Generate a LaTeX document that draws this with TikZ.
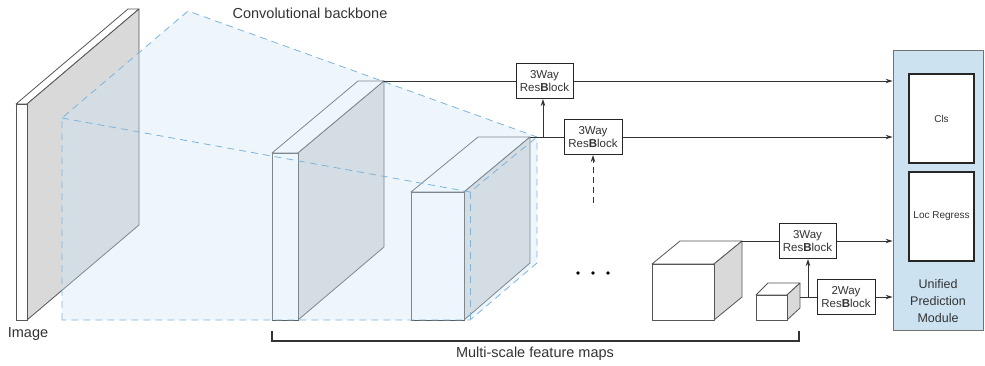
\documentclass[tikz,border=0pt]{standalone}
\usepackage{fontspec}
\setmainfont{Liberation Sans}
\usetikzlibrary{arrows.meta}
\definecolor{facegrey}{HTML}{D9D9D9}
\definecolor{edge}{HTML}{555555}
\definecolor{bluefill}{HTML}{CDE6F7}
\definecolor{bluedash}{HTML}{7DB4DC}
\definecolor{modfill}{HTML}{CCE2F0}
\definecolor{txt}{HTML}{333333}
\begin{document}
\begin{tikzpicture}[x=1pt,y=-1pt,
  solid3d/.style={draw=edge, line width=0.8pt, line join=round},
  whiteface/.style={solid3d, fill=white},
  greyface/.style={solid3d, fill=facegrey},
  bluedashed/.style={draw=bluedash, line width=0.8pt, dash pattern=on 7pt off 5pt},
  rbox/.style={draw=black!85, line width=1pt, fill=white, minimum width=57pt, minimum height=35pt, inner sep=0pt, align=center, font=\fontsize{11.5}{13}\selectfont, text=txt},
  conn/.style={draw=black!80, line width=0.9pt},
  arr/.style={conn, -{Stealth[length=7pt,width=4.5pt]}},
  lbl/.style={font=\fontsize{14.5}{17}\selectfont, text=txt},
  headbox/.style={draw=black!85, line width=1.1pt, fill=white, minimum width=65pt, minimum height=89pt, inner sep=0pt, text=txt},
]
\useasboundingbox (0,0) rectangle (985,365);

% coordinates
\coordinate (ia) at (16,104);  \coordinate (ib) at (27,104);  \coordinate (ic) at (139,9);
\coordinate (id) at (128,9);   \coordinate (ie) at (139,225); \coordinate (if) at (27,320);
\coordinate (fa) at (272,153); \coordinate (fb) at (298,153); \coordinate (fc) at (384,81);
\coordinate (fd) at (358,81);  \coordinate (fe) at (384,247); \coordinate (ff) at (298,320);
\coordinate (ca) at (411,192); \coordinate (cb) at (464,192); \coordinate (cc) at (530,137);
\coordinate (cd) at (478,137); \coordinate (ce) at (530,263); \coordinate (cf) at (464,320);
\coordinate (b1) at (62,118);  \coordinate (b2) at (188,11);  \coordinate (b3) at (537,137);
\coordinate (b4) at (537,263); \coordinate (b5) at (470,320); \coordinate (b6) at (62,320);
\coordinate (b7) at (470,192);
\coordinate (ga) at (652,264); \coordinate (gb) at (714,264); \coordinate (gc) at (742,241);
\coordinate (gd) at (680,241); \coordinate (ge) at (742,297); \coordinate (gf) at (714,320);
\coordinate (sa) at (756,295); \coordinate (sb) at (787,295); \coordinate (sc) at (800,283);
\coordinate (sd) at (768,283); \coordinate (se) at (800,308); \coordinate (sf) at (787,320);
\coordinate (sout) at (800,297);
\coordinate (j1) at (543,137);
\coordinate (j2) at (808,297);
\coordinate (dstart) at (593,203);

% image plate
\path[whiteface] (ia) -- (ib) -- (ic) -- (id) -- cycle;
\path[greyface] (ib) -- (ic) -- (ie) -- (if) -- cycle;
\path[whiteface] (ia) rectangle (if);

% feature map 1
\path[whiteface] (fa) -- (fb) -- (fc) -- (fd) -- cycle;
\path[greyface] (fb) -- (fc) -- (fe) -- (ff) -- cycle;
\path[whiteface] (fa) rectangle (ff);

% cube 2
\path[whiteface] (ca) -- (cb) -- (cc) -- (cd) -- cycle;
\path[greyface] (cb) -- (cc) -- (ce) -- (cf) -- cycle;
\path[whiteface] (ca) rectangle (cf);

% blue backbone volume
\fill[bluefill, opacity=0.35] (b1) -- (b2) -- (b3) -- (b4) -- (b5) -- (b6) -- cycle;
\draw[bluedashed] (b6) -- (b1) -- (b2) -- (b3) -- (b4) -- (b5) -- (b6);
\draw[bluedashed] (b1) -- (b7) -- (b3);
\draw[bluedashed] (b7) -- (b5);

% big cube
\path[whiteface] (ga) -- (gb) -- (gc) -- (gd) -- cycle;
\path[greyface] (gb) -- (gc) -- (ge) -- (gf) -- cycle;
\path[whiteface] (ga) rectangle (gf);

% small cube
\path[whiteface] (sa) -- (sb) -- (sc) -- (sd) -- cycle;
\path[greyface] (sb) -- (sc) -- (se) -- (sf) -- cycle;
\path[whiteface] (sa) rectangle (sf);

% prediction module
\node[draw=black!55, line width=0.9pt, fill=modfill, minimum width=90pt, minimum height=280pt, inner sep=0pt] (upm) at (938,190) {};
\node[headbox, font=\fontsize{10}{12}\selectfont] (cls) at (941.5,118.5) {Cls};
\node[headbox, font=\fontsize{10}{12}\selectfont] (loc) at (941.5,216.5) {Loc Regress};
\node[align=center, font=\fontsize{12.5}{17}\selectfont, text=txt] (upmtxt) at (938,301) {Unified\\Prediction\\Module};

% res blocks
\node[rbox] (rb1) at (544.5,81) {3Way\\Res\textbf{B}lock};
\node[rbox, minimum width=58pt] (rb2) at (593,137) {3Way\\Res\textbf{B}lock};
\node[rbox] (rb3) at (807.5,241) {3Way\\Res\textbf{B}lock};
\node[rbox, minimum width=58pt] (rb4) at (846,297) {2Way\\Res\textbf{B}lock};

% connectors
\draw[conn] (fc) -- (rb1.west);
\draw[arr] (rb1.east) -- (rb1.east -| upm.west);
\draw[conn] (cc) -- (rb2.west);
\draw[arr] (rb2.east) -- (rb2.east -| upm.west);
\draw[arr] (j1) -- (j1 |- rb1.south);
\draw[arr, dash pattern=on 6pt off 4pt] (dstart) -- (rb2.south);
\draw[conn] (gc) -- (rb3.west);
\draw[arr] (rb3.east) -- (rb3.east -| upm.west);
\draw[conn] (sout) -- (rb4.west);
\draw[arr] (j2) -- (j2 |- rb3.south);
\draw[arr] (rb4.east) -- (rb4.east -| upm.west);

% dots
\fill[black] (578,273) circle (1.8) (593,273) circle (1.8) (608,273) circle (1.8);

% bracket
\coordinate (brl) at (272,331);
\coordinate (brr) at (799,331);
\draw[black!80, line width=1.3pt] (brl) -- ++(0,10) -| (brr);

% labels
\node[lbl] (lbconv) at (310,13) {Convolutional backbone};
\node[lbl] (lbimg) at (28,334) {Image};
\node[lbl] (lbms) at (535,354) {Multi-scale feature maps};
\end{tikzpicture}
\end{document}
